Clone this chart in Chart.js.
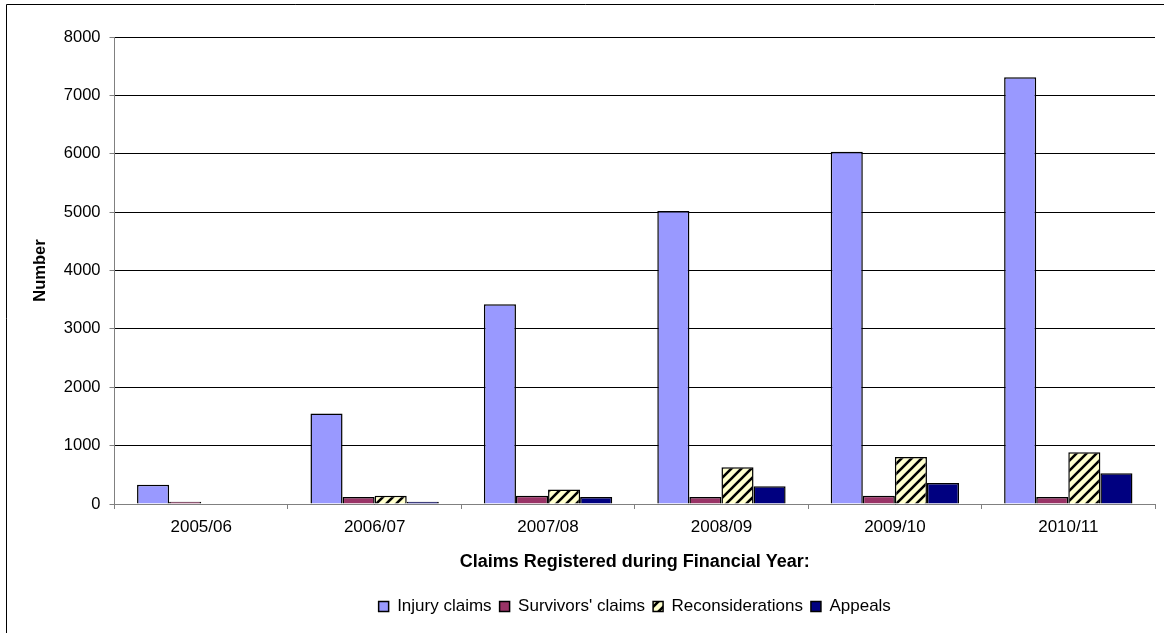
<!DOCTYPE html>
<html>
<head>
<meta charset="utf-8">
<script src="https://cdn.jsdelivr.net/npm/chart.js@4/dist/chart.umd.min.js"></script>
<style>
  html, body { margin: 0; padding: 0; background: #fff; }
  #wrap { position: relative; width: 1164px; height: 633px; }
  canvas { display: block; }
</style>
</head>
<body>
<div id="wrap"><canvas id="c" width="1164" height="633"></canvas></div>
<script>
const categories = ['2005/06', '2006/07', '2007/08', '2008/09', '2009/10', '2010/11'];
const injuryClaims = [330, 1550, 3420, 5020, 6035, 7310];
const survivorsClaims = [40, 120, 140, 120, 140, 120];
const reconsiderations = [0, 140, 250, 630, 805, 885];
const appeals = [0, 40, 120, 305, 360, 525];
const seriesNames = ['Injury claims', "Survivors' claims", 'Reconsiderations', 'Appeals'];
const yTitle = 'Number';
const xTitle = 'Claims Registered during Financial Year:';

function hatch() {
  const p = document.createElement('canvas');
  p.width = 10; p.height = 10;
  const g = p.getContext('2d');
  g.fillStyle = '#FFFFCC';
  g.fillRect(0, 0, 10, 10);
  g.strokeStyle = '#000';
  g.lineWidth = 2.6;
  g.beginPath();
  g.moveTo(-2, 12); g.lineTo(12, -2);
  g.moveTo(-7, 7); g.lineTo(7, -7);
  g.moveTo(3, 17); g.lineTo(17, 3);
  g.stroke();
  return document.getElementById('c').getContext('2d').createPattern(p, 'repeat');
}

const frame = {
  id: 'frame',
  beforeDraw(chart) {
    const ctx = chart.ctx;
    ctx.save();
    ctx.strokeStyle = '#000';
    ctx.lineWidth = 1;
    ctx.beginPath();
    ctx.moveTo(6.5, 633);
    ctx.lineTo(6.5, 4.5);
    ctx.lineTo(1164, 4.5);
    ctx.stroke();
    ctx.restore();
  }
};

const font = { family: 'Liberation Sans, Arial, sans-serif', size: 17 };

new Chart(document.getElementById('c'), {
  type: 'bar',
  data: {
    labels: categories,
    datasets: [
      { label: seriesNames[0], data: injuryClaims, backgroundColor: '#9999FF' },
      { label: seriesNames[1], data: survivorsClaims, backgroundColor: '#993366' },
      { label: seriesNames[2], data: reconsiderations, backgroundColor: hatch() },
      { label: seriesNames[3], data: appeals, backgroundColor: '#000080' }
    ].map(d => Object.assign(d, { borderColor: '#000', borderWidth: 1.5, categoryPercentage: 0.74, barPercentage: 1 }))
  },
  options: {
    responsive: false,
    animation: false,
    devicePixelRatio: 1,
    layout: { padding: { left: 26, right: 9, top: 37, bottom: 8 } },
    plugins: {
      tooltip: { enabled: false },
      legend: {
        position: 'bottom',
        fullSize: false,
        labels: { font: font, color: '#000', boxWidth: 10, boxHeight: 10, padding: 8 }
      }
    },
    scales: {
      x: {
        offset: true,
        grid: { offset: true, drawOnChartArea: false, color: '#808080', tickLength: 5 },
        border: { color: '#808080', width: 1 },
        ticks: { font: font, color: '#000', padding: 8, maxRotation: 0 },
        title: { display: true, text: xTitle, font: { family: font.family, size: 18, weight: 'bold' }, color: '#000', padding: { top: 6, bottom: 17 } }
      },
      y: {
        min: 0, max: 8000,
        grid: { color: '#000', tickColor: '#808080', tickLength: 5 },
        border: { color: '#808080', width: 1 },
        ticks: { stepSize: 1000, font: { family: font.family, size: 16.5 }, color: '#000', padding: 9, callback: v => String(v) },
        title: { display: true, text: yTitle, font: { family: font.family, size: 16.5, weight: 'bold' }, color: '#000', padding: { top: 5, bottom: 4 } }
      }
    }
  },
  plugins: [frame]
});
</script>
</body>
</html>
